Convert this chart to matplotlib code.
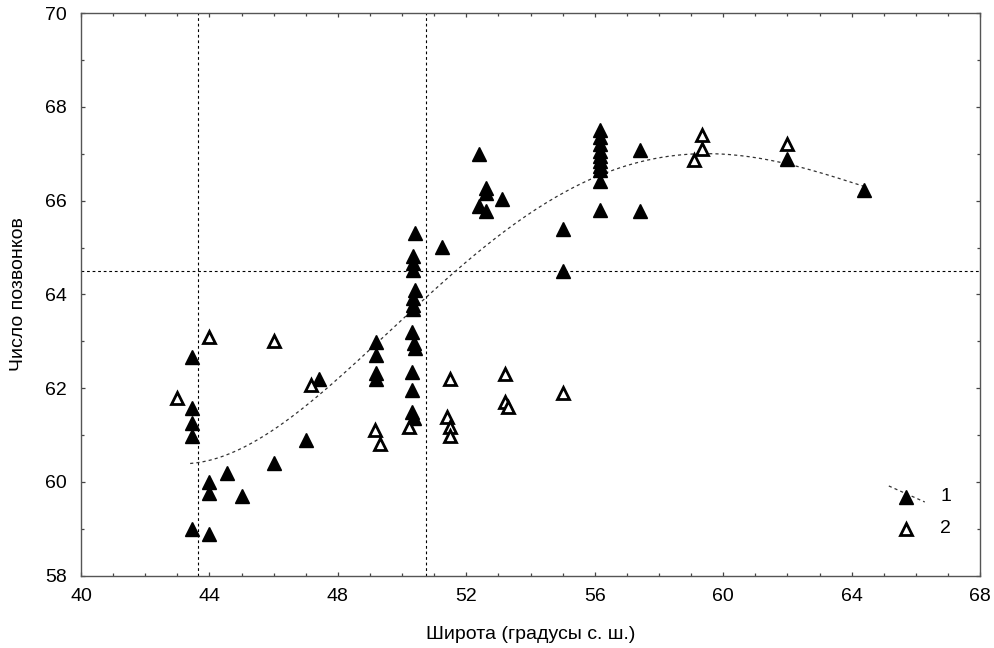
import numpy as np
import matplotlib
matplotlib.use("Agg")
import matplotlib.pyplot as plt
from matplotlib.ticker import MultipleLocator

plt.rcParams['font.family'] = ['Liberation Sans', 'DejaVu Sans']

# series 1 (filled triangles)
lat_1 = [43.45, 43.45, 43.45, 43.45, 43.45,
         44.0, 44.0, 44.0, 44.55, 45.0, 46.0, 47.0, 47.4,
         49.2, 49.2, 49.2, 49.2,
         50.4, 50.35, 50.35, 50.35, 50.4, 50.35, 50.35, 50.35,
         50.3, 50.37, 50.4, 50.3, 50.3, 50.3, 50.37,
         51.25, 52.4, 52.4, 52.6, 52.6, 52.6, 53.1,
         55.0, 55.0,
         56.15, 56.15, 56.15, 56.15, 56.15, 56.15, 56.15, 56.15, 56.15, 56.15,
         57.4, 57.4, 62.0, 64.4]
vert_1 = [62.67, 61.57, 61.25, 60.98, 58.99,
          59.99, 59.76, 58.89, 60.19, 59.69, 60.40, 60.90, 62.19,
          62.99, 62.71, 62.33, 62.19,
          65.31, 64.81, 64.67, 64.53, 64.10, 63.92, 63.78, 63.69,
          63.19, 62.97, 62.85, 62.35, 61.96, 61.50, 61.36,
          65.01, 67.0, 65.88, 66.27, 66.16, 65.79, 66.03,
          65.39, 64.49,
          67.5, 67.35, 67.2, 67.05, 66.95, 66.85, 66.75, 66.65, 66.41, 65.81,
          67.09, 65.77, 66.89, 66.23]

# series 2 (open triangles)
lat_2 = [43.0, 44.0, 46.0, 47.15, 49.15, 49.3, 50.2, 51.5, 51.4, 51.5, 51.5,
         53.2, 53.2, 53.3, 55.0, 59.1, 59.35, 59.35, 62.0]
vert_2 = [61.8, 63.1, 63.0, 62.07, 61.1, 60.8, 61.18, 62.2, 61.38, 61.18, 60.98,
          62.3, 61.7, 61.6, 61.9, 66.87, 67.1, 67.4, 67.2]

curve_lat = [43.4, 45.7, 46.5, 50.0, 50.77, 51.55, 56.17, 59.0, 59.8, 64.16, 64.4]
curve_vert = [60.4, 60.97, 61.36, 63.46, 63.92, 64.49, 66.52, 66.98, 67.02, 66.41, 66.25]

# reference lines
v_lines = [43.65, 50.75]
h_line = 64.5

fig = plt.figure(figsize=(9.95, 6.48), dpi=100)
ax = fig.add_axes([0.0814, 0.1116, 0.9036, 0.868])

dash = (0, (2.5, 2.5))

# smooth polynomial through the curve points
coef = np.polyfit(curve_lat, curve_vert, 4)
xs = np.linspace(curve_lat[0], curve_lat[-1], 200)
ax.plot(xs, np.polyval(coef, xs), color='#333333', lw=0.9, ls=dash, zorder=2)

for xv in v_lines:
    ax.axvline(xv, color='black', lw=0.8, ls=dash, zorder=1)
ax.axhline(h_line, color='black', lw=0.8, ls=dash, zorder=1)

ax.plot(lat_1, vert_1, ls='none', marker='^', ms=9.5, mfc='black', mec='black',
        mew=1.0, zorder=3)
ax.plot(lat_2, vert_2, ls='none', marker='^', ms=8.5, mfc='white', mec='black',
        mew=2.0, zorder=3)

ax.set_xlim(40, 68)
ax.set_ylim(58, 70)
ax.xaxis.set_major_locator(MultipleLocator(4))
ax.xaxis.set_minor_locator(MultipleLocator(1))
ax.yaxis.set_major_locator(MultipleLocator(2))
ax.yaxis.set_minor_locator(MultipleLocator(1))
ax.tick_params(which='both', direction='in', top=True, right=True,
               labelsize=14, color='#444444')
ax.tick_params(which='major', length=2.6, width=0.9)
ax.tick_params(which='minor', length=2.0, width=0.9)
ax.tick_params(axis='x', pad=9)
ax.tick_params(axis='y', pad=10)
for sp in ax.spines.values():
    sp.set_color('#555555')
    sp.set_linewidth(1.0)

ax.set_xlabel("Широта (градусы с. ш.)", fontsize=14, labelpad=15)
ax.set_ylabel("Число позвонков", fontsize=14, labelpad=13)

# legend drawn by hand (slanted line through the marker, like the original)
tr = ax.transAxes
ax.plot([0.8985, 0.9385], [0.1595, 0.131], transform=tr, color='#333333',
        lw=0.9, ls=dash, clip_on=False)
ax.plot([0.918], [0.1405], transform=tr, marker='^', ms=9.5, mfc='black',
        mec='black', clip_on=False)
ax.plot([0.918], [0.0835], transform=tr, marker='^', ms=8.5, mfc='white',
        mec='black', mew=2.0, clip_on=False)
ax.text(0.962, 0.1405, "1", transform=tr, fontsize=14, ha='center', va='center')
ax.text(0.962, 0.0835, "2", transform=tr, fontsize=14, ha='center', va='center')

fig.savefig("out.png", dpi=100)
